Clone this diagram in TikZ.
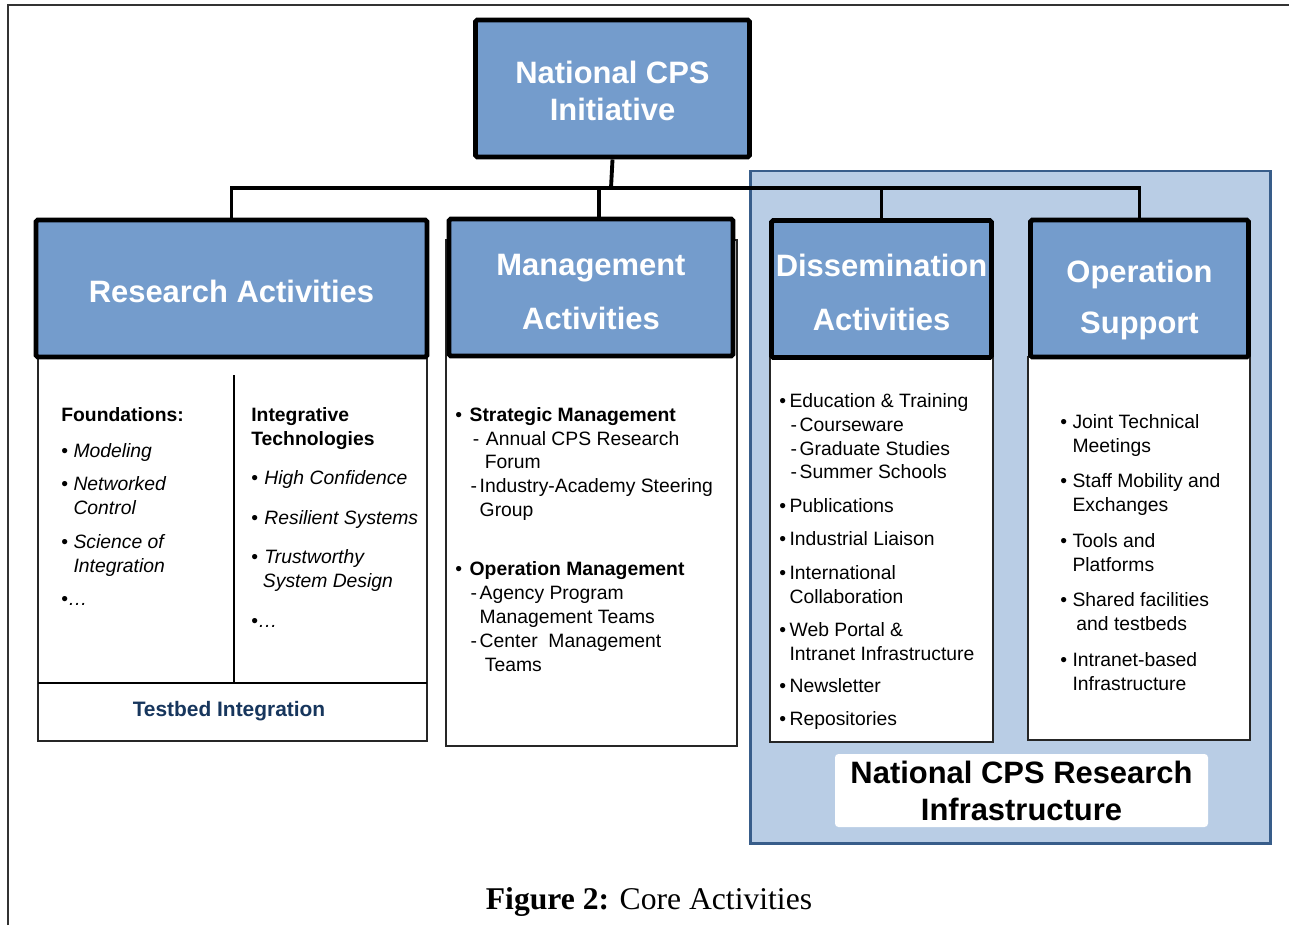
\documentclass[tikz,border=0pt]{standalone}
\usepackage{fontspec}
\setmainfont{Liberation Sans}
\newfontfamily\capfont{Liberation Serif}
\usepackage{tikz}

\definecolor{hdrblue}{RGB}{116,156,204}
\definecolor{infrafill}{RGB}{185,205,229}
\definecolor{infraedge}{RGB}{56,93,138}
\definecolor{navy}{RGB}{23,54,93}

\newcommand{\cpsbul}[1][0.63em]{\makebox[#1][l]{\textbullet}}
\newcommand{\cpsind}[1][0.63em]{\hspace*{#1}}
\newcommand{\cpsdash}[1][0.79em]{\hspace*{#1}\makebox[0.47em][l]{-}}

\begin{document}
\begin{tikzpicture}[
		hdr/.style={draw=black, line width=2.8pt, fill=hdrblue, text=white, rounded corners=1pt, align=center, inner sep=2pt, minimum height=2.74cm, font=\fontsize{17.6}{21}\selectfont\bfseries},
		joinline/.style={line width=2.2pt},
		panel/.style={draw=black!85, line width=0.8pt, fill=white},
		lst/.style={anchor=base west, align=left, inner sep=0pt, font=\fontsize{11}{13.6}\selectfont}
	]
			\useasboundingbox (0,0) rectangle (25.78,-18.5);
			\draw[black!80, line width=1pt] (0.16,-18.5) |- (25.78,-0.1);

			\draw[fill=infrafill, draw=infraedge, line width=1.7pt] (15.0,-3.42) rectangle (25.4,-16.86);

			\draw[panel] (0.76,-6.9) rectangle (8.54,-14.82);
			\draw[line width=1pt] (4.68,-7.5) -- (4.68,-13.66);
			\draw[line width=0.8pt] (0.76,-13.66) -- (8.54,-13.66);
			\draw[panel] (8.92,-4.8) rectangle (14.74,-14.92);
			\draw[panel] (15.4,-6.9) rectangle (19.86,-14.84);
			\draw[panel] (20.56,-7.14) rectangle (25.0,-14.8);

			\node[hdr, minimum width=5.48cm] (init) at (12.25,-1.77) {\rule{0pt}{16pt}National CPS\\Initiative};
			\node[hdr, minimum width=7.82cm] (res) at (4.63,-5.77) {\rule{0pt}{16pt}Research Activities};
			\node[hdr, minimum width=5.68cm] (mgmt) at (11.82,-5.75) {\rule{0pt}{17pt}Management\\[9.6pt]Activities};
			\node[hdr, minimum width=4.40cm] (dis) at (17.63,-5.78) {\rule{0pt}{17pt}Dissemination\\[9.6pt]Activities};
			\node[hdr, minimum width=4.36cm] (ops) at (22.79,-5.77) {\rule{0pt}{26pt}Operation\\[8pt]Support};

			\coordinate (bus) at (12.22,-3.76);
			\draw[joinline] (init.south) -- (bus);
			\draw[joinline] (res.north) |- (bus) -| (ops.north);
			\draw[joinline] ([xshift=0.16cm]mgmt.north) -- ([xshift=0.16cm]mgmt.north |- bus);
			\draw[joinline] (dis.north) -- (dis.north |- bus);

			\node[lst] (found) at (1.22,-12.1) {\textbf{Foundations:}\\[6.8pt]
				\cpsbul\textit{Modeling}\\[5.1pt]
				\cpsbul\textit{Networked}\\
				\cpsind\textit{Control}\\[5.7pt]
				\cpsbul\textit{Science of}\\
				\cpsind\textit{Integration}\\[5.1pt]
				\textbullet\textit{…}};
			\node[lst] (integ) at (5.02,-12.54) {\textbf{Integrative}\\
				\textbf{Technologies}\\[9pt]
				\cpsbul[0.68em]\textit{High Confidence}\\[9pt]
				\cpsbul[0.68em]\textit{Resilient Systems}\\[8.5pt]
				\cpsbul[0.68em]\textit{Trustworthy}\\
				\cpsind[0.6em]\textit{System Design}\\[9pt]
				\textbullet\textit{…}};
			\node[font=\fontsize{11.9}{14}\selectfont\bfseries, text=navy] (testbed) at (4.58,-14.22) {Testbed Integration};

			\node[lst] (mgmtlist) at (9.1,-13.42) {\cpsbul[0.74em]\textbf{Strategic Management}\\
				\cpsdash[0.9em]\hspace{0.21em}Annual CPS Research\\
				\cpsind[1.53em]Forum\\
				\cpsdash Industry-Academy Steering\\
				\cpsind[1.26em]Group\\[19.8pt]
				\cpsbul[0.74em]\textbf{Operation Management}\\
				\cpsdash Agency Program\\
				\cpsind[1.26em]Management Teams\\
				\cpsdash Center\ \ Management\\
				\cpsind[1.53em]Teams};

			\node[lst] (dislist) at (15.58,-14.5) {\cpsbul[0.53em]Education \& Training\\
				\cpsdash[0.58em]Courseware\\
				\cpsdash[0.58em]Graduate Studies\\
				\cpsdash[0.58em]Summer Schools\\[5.4pt]
				\cpsbul[0.53em]Publications\\[5.4pt]
				\cpsbul[0.53em]Industrial Liaison\\[5.4pt]
				\cpsbul[0.53em]International\\
				\cpsind[0.53em]Collaboration\\[5.4pt]
				\cpsbul[0.53em]Web Portal \&\\
				\cpsind[0.53em]Intranet Infrastructure\\[4.5pt]
				\cpsbul[0.53em]Newsletter\\[5.1pt]
				\cpsbul[0.53em]Repositories};

			\node[lst] (opslist) at (21.2,-13.8) {\cpsbul Joint Technical\\
				\cpsind Meetings\\[6.5pt]
				\cpsbul Staff Mobility and\\
				\cpsind Exchanges\\[6.8pt]
				\cpsbul Tools and\\
				\cpsind Platforms\\[6.8pt]
				\cpsbul Shared facilities\\
				\cpsind[0.83em]and testbeds\\[6.5pt]
				\cpsbul Intranet-based\\
				\cpsind Infrastructure};

			\node[fill=white, rounded corners=2pt, minimum width=7.46cm, minimum height=1.46cm, align=center, inner sep=1pt, font=\fontsize{17.6}{21}\selectfont\bfseries] (infra) at (20.43,-15.81) {National CPS Research\\Infrastructure};

			\node[font=\capfont\fontsize{18}{21}\selectfont] (caption) at (12.98,-18.04) {\textbf{Figure 2:} Core Activities};
		\end{tikzpicture}
\end{document}
